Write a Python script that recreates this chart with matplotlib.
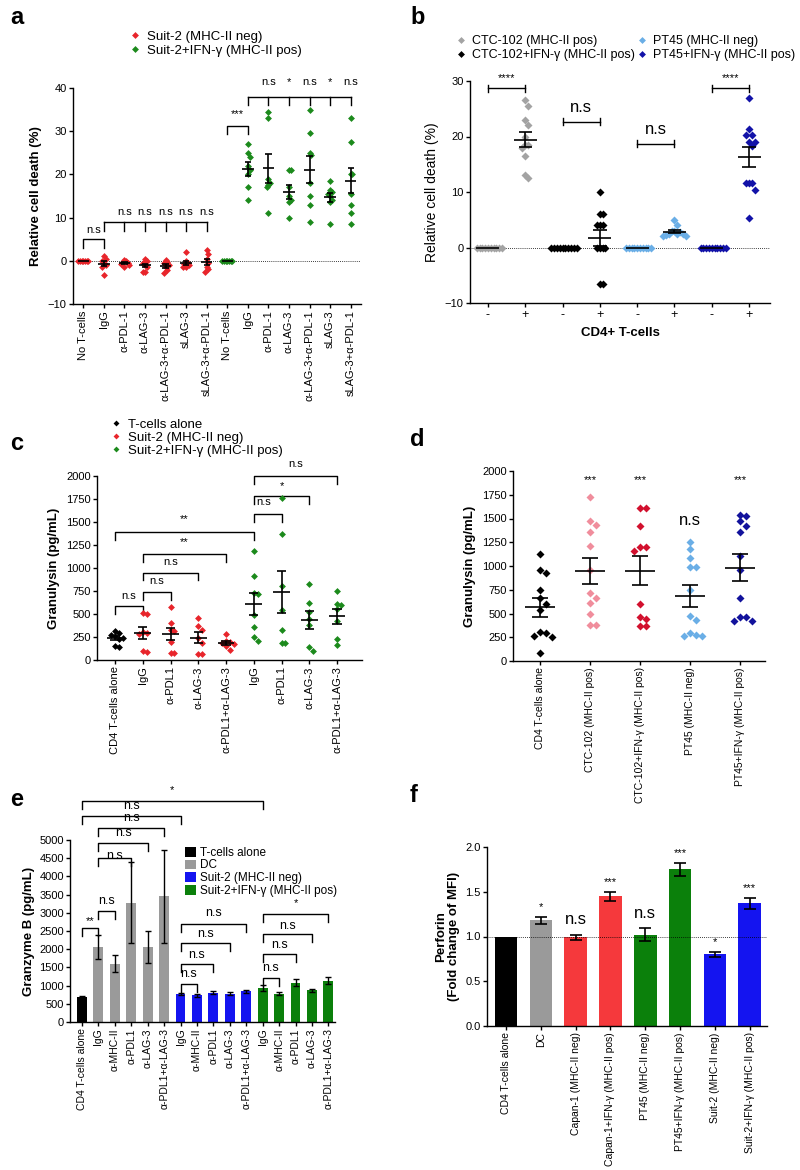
import numpy as np
import matplotlib
matplotlib.use("Agg")
import matplotlib.pyplot as plt
from matplotlib.lines import Line2D
from matplotlib.patches import Patch

plt.rcParams['font.family'] = ['Liberation Sans', 'DejaVu Sans']
plt.rcParams['axes.linewidth'] = 1.0
plt.rcParams['xtick.major.width'] = 1.0
plt.rcParams['ytick.major.width'] = 1.0
plt.rcParams['xtick.major.size'] = 3
plt.rcParams['ytick.major.size'] = 3

# ---------------- data ----------------
# panel a
a_labels = ["No T-cells", "IgG", "α-PDL-1", "α-LAG-3", "α-LAG-3+α-PDL-1", "sLAG-3", "sLAG-3+α-PDL-1"]
a_red = [
    [0, 0, 0, 0, 0, 0, 0],
    [1.0, 0.5, 0, -0.5, -1.0, -1.5, -3.2],
    [0.2, 0, -0.3, -0.5, -0.8, -1.0, -1.5],
    [0.5, 0, -0.5, -1.0, -1.5, -2.5, -2.5],
    [0.2, -0.2, -0.5, -1.0, -1.5, -2.2, -2.8],
    [2.0, 0, -0.5, -0.8, -1.0, -1.5, -1.5],
    [2.5, 1.5, 0.5, -0.5, -1.5, -2.0, -2.5],
]
a_green = [
    [0, 0, 0, 0, 0, 0, 0],
    [27, 25, 24, 22, 21, 20, 17, 14],
    [34.5, 33, 19, 18, 17.5, 17, 11],
    [21, 21, 17, 15, 14, 13.5, 10],
    [35, 29.5, 25, 24.5, 18, 15, 13, 9],
    [18.5, 16.5, 16, 15.5, 15, 14, 13.5, 8.5],
    [33, 27.5, 20, 20, 15.5, 13, 11, 8.5],
]
a_red_sig = ["n.s", "n.s", "n.s", "n.s", "n.s"]
a_green_sig = ["n.s", "*", "n.s", "*", "n.s"]

# panel b
b_names = ["CTC-102 (MHC-II pos)", "CTC-102+IFN-γ (MHC-II pos)", "PT45 (MHC-II neg)", "PT45+IFN-γ (MHC-II pos)"]
b_minus = [[0] * 10, [0] * 10, [0] * 10, [0] * 10]
b_plus = [
    [26.5, 25.5, 23, 22, 20, 18.5, 18.5, 18, 16.5, 13, 12.5],
    [10, 6, 6, 4, 4, 4, 0, 0, 0, 0, -6.5, -6.5],
    [5, 4, 3, 3, 2.8, 2.5, 2.5, 2.2, 2, 2, 2.5],
    [27, 21.4, 20.3, 20.3, 19, 19, 18.3, 11.6, 11.6, 11.6, 10.4, 5.4],
]
b_sig = ["****", "n.s", "n.s", "****"]

# panel c
c_labels = ["CD4 T-cells alone", "IgG", "α-PDL1", "α-LAG-3", "α-PDL1+α-LAG-3",
            "IgG", "α-PDL1", "α-LAG-3", "α-PDL1+α-LAG-3"]
c_values = [
    [320, 290, 270, 260, 240, 230, 150, 140],
    [510, 500, 300, 290, 280, 100, 90],
    [580, 400, 330, 310, 200, 80, 80],
    [460, 370, 330, 240, 190, 60, 60],
    [280, 210, 200, 180, 170, 150, 110],
    [1180, 910, 730, 720, 490, 360, 250, 210],
    [1760, 1370, 800, 540, 330, 180, 190],
    [830, 620, 520, 450, 380, 140, 100],
    [750, 610, 600, 550, 420, 230, 160],
]
c_groups = ["k", "r", "r", "r", "r", "g", "g", "g", "g"]

# panel d
d_labels = ["CD4 T-cells alone", "CTC-102 (MHC-II pos)", "CTC-102+IFN-γ (MHC-II pos)",
            "PT45 (MHC-II neg)", "PT45+IFN-γ (MHC-II pos)"]
d_values = [
    [1130, 960, 930, 750, 660, 600, 540, 310, 290, 260, 250, 80],
    [1730, 1470, 1430, 1360, 1210, 960, 720, 660, 610, 500, 380, 380],
    [1610, 1610, 1420, 1200, 1200, 1160, 600, 460, 440, 370, 370],
    [1250, 1180, 1080, 990, 990, 750, 470, 430, 270, 260, 260, 290],
    [1540, 1530, 1470, 1420, 1360, 1110, 960, 660, 460, 460, 420, 420],
]
d_sig = ["", "***", "***", "n.s", "***"]

# panel e
e_labels = ["CD4 T-cells alone", "IgG", "α-MHC-II", "α-PDL1", "α-LAG-3", "α-PDL1+α-LAG-3",
            "IgG", "α-MHC-II", "α-PDL1", "α-LAG-3", "α-PDL1+α-LAG-3",
            "IgG", "α-MHC-II", "α-PDL1", "α-LAG-3", "α-PDL1+α-LAG-3"]
e_means = [680, 2050, 1600, 3280, 2070, 3450, 770, 730, 810, 780, 840, 930, 780, 1080, 870, 1140]
e_errs = [30, 330, 230, 1120, 440, 1270, 30, 30, 50, 40, 40, 90, 50, 100, 50, 90]
e_groups = ["k"] + ["gray"] * 5 + ["b"] * 5 + ["g"] * 5
e_legend = ["T-cells alone", "DC", "Suit-2 (MHC-II neg)", "Suit-2+IFN-γ (MHC-II pos)"]

# panel f
f_labels = ["CD4 T-cells alone", "DC", "Capan-1 (MHC-II neg)", "Capan-1+IFN-γ (MHC-II pos)",
            "PT45 (MHC-II neg)", "PT45+IFN-γ (MHC-II pos)", "Suit-2 (MHC-II neg)", "Suit-2+IFN-γ (MHC-II pos)"]
f_means = [1.0, 1.18, 0.99, 1.45, 1.02, 1.75, 0.80, 1.37]
f_errs = [0, 0.04, 0.03, 0.05, 0.07, 0.07, 0.03, 0.06]
f_sig = ["", "*", "n.s", "***", "n.s", "***", "*", "***"]

# ---------------- colours ----------------
RED = "#e8252b"
GREEN = "#1c8a1c"
BAR_GRAY = "#9a9a9a"
BAR_BLUE = "#1414f0"
BAR_GREEN = "#0b800b"
BAR_RED = "#f5393c"
b_colors = ["#a3a3a3", "#000000", "#6aaee6", "#1212a8"]
d_colors = ["#000000", "#f08d9c", "#d2102e", "#6aaee6", "#12129c"]
c_cmap = {"k": "#000000", "r": RED, "g": GREEN}
e_cmap = {"k": "#000000", "gray": BAR_GRAY, "b": BAR_BLUE, "g": BAR_GREEN}
f_colors = ["#000000", BAR_GRAY, BAR_RED, BAR_RED, BAR_GREEN, BAR_GREEN, BAR_BLUE, BAR_BLUE]


def swarm(values, step, tol):
    vals = np.asarray(values, float)
    xs = np.zeros(len(vals))
    placed = []
    cands = [0.0]
    for n in range(1, 25):
        cands += [n * step, -n * step]
    for i in np.argsort(-vals):
        y = vals[i]
        for c in cands:
            if all(abs(c - px) >= step * 0.99 or abs(y - py) >= tol for px, py in placed):
                xs[i] = c
                placed.append((c, y))
                break
    return xs


def dots(ax, x, values, color, step, tol, mw, cw, ms):
    vals = np.asarray(values, float)
    offs = swarm(vals, step, tol)
    ax.plot(x + offs, vals, 'D', color=color, ms=ms, mec='none', zorder=3, clip_on=False)
    m = vals.mean()
    sem = vals.std(ddof=1) / np.sqrt(len(vals))
    ax.hlines(m, x - mw / 2, x + mw / 2, color='black', lw=1.2, zorder=4)
    if sem > 0:
        ax.vlines(x, m - sem, m + sem, color='black', lw=1.2, zorder=4)
        ax.hlines([m - sem, m + sem], x - cw / 2, x + cw / 2, color='black', lw=1.2, zorder=4)


def bracket(ax, x1, x2, y, tick, text, ty, fs=8, tx=None, centered=False):
    if centered:
        ax.plot([x1, x2], [y, y], color='black', lw=1, clip_on=False)
        ax.plot([x1, x1], [y - tick, y + tick], color='black', lw=1, clip_on=False)
        ax.plot([x2, x2], [y - tick, y + tick], color='black', lw=1, clip_on=False)
    else:
        ax.plot([x1, x1, x2, x2], [y - tick, y, y, y - tick], color='black', lw=1, clip_on=False)
    if tx is None:
        tx = (x1 + x2) / 2
    ax.text(tx, ty, text, ha='center', va='center', fontsize=fs, clip_on=False)


def multi_bracket(ax, xs, y, tick, labels, ty, fs=8):
    ax.plot([xs[0], xs[-1]], [y, y], color='black', lw=1, clip_on=False)
    for x in xs:
        ax.plot([x, x], [y, y - tick], color='black', lw=1, clip_on=False)
    for x, t in zip(xs[1:], labels):
        ax.text(x, ty, t, ha='center', va='center', fontsize=fs, clip_on=False)


def style(ax):
    for s in ['top', 'right']:
        ax.spines[s].set_visible(False)
    ax.tick_params(labelsize=8, direction='out', pad=1.5)


W, H = 800, 1170
fig = plt.figure(figsize=(8, 11.7), dpi=100)


def box(l, r, t, b):
    return [l / W, 1 - b / H, (r - l) / W, (b - t) / H]


# ---------------- panel a ----------------
ax = fig.add_axes(box(73, 361, 88, 304))
style(ax)
for i, v in enumerate(a_red):
    dots(ax, i, v, RED, 0.08, 1.3, 0.55, 0.3, 3.5)
for i, v in enumerate(a_green):
    dots(ax, i + 7, v, GREEN, 0.08, 1.3, 0.55, 0.3, 3.5)
ax.axhline(0, color='black', lw=0.6, ls=(0, (1, 1.5)), zorder=1)
ax.set_xlim(-0.5, 13.5)
ax.set_ylim(-10, 40)
ax.set_yticks([-10, 0, 10, 20, 30, 40])
ax.set_xticks(range(14))
ax.set_xticklabels(a_labels + a_labels, rotation=90, fontsize=8)
ax.set_ylabel("Relative cell death (%)", fontsize=9.5, fontweight='bold', labelpad=4)
bracket(ax, 0, 1, 5, 2, "n.s", 7.2)
multi_bracket(ax, list(range(1, 7)), 9, 2, a_red_sig, 11.3)
bracket(ax, 7, 8, 31.3, 2, "***", 34.0)
multi_bracket(ax, list(range(8, 14)), 38, 2, a_green_sig, 41.3)
h = [Line2D([], [], marker='D', ls='', color=RED, ms=3.5, mec='none'),
     Line2D([], [], marker='D', ls='', color=GREEN, ms=3.5, mec='none')]
fig.legend(h, ["Suit-2 (MHC-II neg)", "Suit-2+IFN-γ (MHC-II pos)"], loc='upper left',
           bbox_to_anchor=(122 / W, 1 - 24 / H), frameon=False, fontsize=9.5,
           handlelength=1, handletextpad=0.4, labelspacing=0.15, borderpad=0)
fig.text(10 / W, 1 - 18 / H, "a", fontsize=17, fontweight='bold', va='center')

# ---------------- panel b ----------------
ax = fig.add_axes(box(470, 770, 81, 303))
style(ax)
for k in range(4):
    dots(ax, 2 * k, b_minus[k], b_colors[k], 0.075, 1.4, 0.62, 0.36, 3.8)
    dots(ax, 2 * k + 1, b_plus[k], b_colors[k], 0.075, 1.4, 0.62, 0.36, 3.8)
ax.axhline(0, color='black', lw=0.6, ls=(0, (1, 1.5)), zorder=1)
ax.set_xlim(-0.48, 7.56)
ax.set_ylim(-10, 30)
ax.set_yticks([-10, 0, 10, 20, 30])
ax.set_xticks(range(8))
ax.set_xticklabels(["-", "+"] * 4, fontsize=9)
ax.set_xlabel("CD4+ T-cells", fontsize=9.5, fontweight='bold', labelpad=4)
ax.set_ylabel("Relative cell death (%)", fontsize=10, labelpad=4)
bracket(ax, 0, 1, 28.7, 0.6, b_sig[0], 30.6, fs=8, centered=True)
bracket(ax, 2, 3, 22.7, 0.6, b_sig[1], 25.2, fs=12, centered=True)
bracket(ax, 4, 5, 18.7, 0.6, b_sig[2], 21.2, fs=12, centered=True)
bracket(ax, 6, 7, 28.7, 0.6, b_sig[3], 30.6, fs=8, centered=True)
h = [Line2D([], [], marker='D', ls='', color=c, ms=3.5, mec='none') for c in b_colors]
fig.legend([h[0], h[1], h[2], h[3]], [b_names[0], b_names[1], b_names[2], b_names[3]],
           loc='upper left', ncol=2, bbox_to_anchor=(448 / W, 1 - 29 / H), frameon=False,
           fontsize=9, handlelength=1, handletextpad=0.4, labelspacing=0.15,
           columnspacing=0.1, borderpad=0)
fig.text(410 / W, 1 - 17 / H, "b", fontsize=17, fontweight='bold', va='center')

# ---------------- panel c ----------------
ax = fig.add_axes(box(97, 362, 476, 660))
style(ax)
for i, v in enumerate(c_values):
    dots(ax, i, v, c_cmap[c_groups[i]], 0.14, 60, 0.6, 0.33, 3.5)
ax.set_xlim(-0.65, 8.9)
ax.set_ylim(0, 2000)
ax.set_yticks(range(0, 2001, 250))
ax.set_xticks(range(9))
ax.set_xticklabels(c_labels, rotation=90, fontsize=8)
ax.set_ylabel("Granulysin (pg/mL)", fontsize=9.5, fontweight='bold', labelpad=4)
tk = 85
bracket(ax, 0, 1, 590, tk, "n.s", 700)
bracket(ax, 1, 2, 740, tk, "n.s", 860)
bracket(ax, 1, 3, 950, tk, "n.s", 1070)
bracket(ax, 1, 4, 1150, tk, "**", 1280)
bracket(ax, 0, 5, 1390, tk, "**", 1530)
bracket(ax, 5, 6, 1590, tk, "n.s", 1720, tx=5.35)
bracket(ax, 5, 7, 1780, tk, "*", 1890)
bracket(ax, 5, 8, 2000, tk, "n.s", 2130)
h = [Line2D([], [], marker='D', ls='', color=c, ms=3, mec='none') for c in ["#000000", RED, GREEN]]
fig.legend(h, ["T-cells alone", "Suit-2 (MHC-II neg)", "Suit-2+IFN-γ (MHC-II pos)"],
           loc='upper left', bbox_to_anchor=(103 / W, 1 - 412 / H), frameon=False, fontsize=9.5,
           handlelength=1, handletextpad=0.4, labelspacing=0.05, borderpad=0)
fig.text(10 / W, 1 - 443 / H, "c", fontsize=17, fontweight='bold', va='center')

# ---------------- panel d ----------------
ax = fig.add_axes(box(513, 765, 471, 661))
style(ax)
for i, v in enumerate(d_values):
    dots(ax, i, v, d_colors[i], 0.12, 70, 0.6, 0.33, 3.8)
    if d_sig[i] == "n.s":
        ax.text(i, 1480, d_sig[i], ha='center', va='center', fontsize=12)
    elif d_sig[i]:
        ax.text(i, 1900, d_sig[i], ha='center', va='center', fontsize=8)
ax.set_xlim(-0.54, 4.5)
ax.set_ylim(0, 2000)
ax.set_yticks(range(0, 2001, 250))
ax.set_xticks(range(5))
ax.set_xticklabels(d_labels, rotation=90, fontsize=7.5)
ax.set_ylabel("Granulysin (pg/mL)", fontsize=9.5, fontweight='bold', labelpad=4)
fig.text(410 / W, 1 - 440 / H, "d", fontsize=17, fontweight='bold', va='center')

# ---------------- panel e ----------------
ax = fig.add_axes(box(70, 335, 840, 1022))
style(ax)
xe = np.arange(len(e_means))
ax.bar(xe, e_means, width=0.6, color=[e_cmap[g] for g in e_groups], zorder=2)
ax.errorbar(xe, e_means, yerr=e_errs, fmt='none', ecolor='black', elinewidth=1, capsize=2.5,
            capthick=1, zorder=3)
ax.set_xlim(-0.73, 15.4)
ax.set_ylim(0, 5000)
ax.set_yticks(range(0, 5001, 500))
ax.set_xticks(xe)
ax.set_xticklabels(e_labels, rotation=90, fontsize=7.5)
ax.set_ylabel("Granzyme B (pg/mL)", fontsize=9.5, fontweight='bold', labelpad=3)
tk = 220
bracket(ax, 0, 1, 2570, tk, "**", 2780)
bracket(ax, 1, 2, 3060, tk, "n.s", 3330, fs=9)
bracket(ax, 1, 3, 4510, tk, "n.s", 4560, fs=9)
bracket(ax, 1, 4, 4920, tk, "n.s", 5190, fs=9)
bracket(ax, 1, 5, 5330, tk, "n.s", 5600, fs=9)
bracket(ax, 0, 6, 5660, tk, "n.s", 5930, fs=9)
bracket(ax, 0, 11, 6070, tk, "*", 6380)
bracket(ax, 6, 7, 1040, tk, "n.s", 1310, fs=9)
bracket(ax, 6, 8, 1590, tk, "n.s", 1830, fs=9)
bracket(ax, 6, 9, 2160, tk, "n.s", 2420, fs=9)
bracket(ax, 6, 10, 2700, tk, "n.s", 3000, fs=9)
bracket(ax, 11, 12, 1200, tk, "n.s", 1470, fs=9)
bracket(ax, 11, 13, 1860, tk, "n.s", 2110, fs=9)
bracket(ax, 11, 14, 2430, tk, "n.s", 2640, fs=9)
bracket(ax, 11, 15, 2980, tk, "*", 3280)
h = [Patch(facecolor=c) for c in ["#000000", BAR_GRAY, BAR_BLUE, BAR_GREEN]]
fig.legend(h, e_legend, loc='upper left', bbox_to_anchor=(179 / W, 1 - 841 / H), frameon=False,
           fontsize=8.5, handlelength=0.9, handleheight=0.9, handletextpad=0.4,
           labelspacing=0.05, borderpad=0)
fig.text(10 / W, 1 - 800 / H, "e", fontsize=17, fontweight='bold', va='center')

# ---------------- panel f ----------------
ax = fig.add_axes(box(487, 767, 847, 1026))
style(ax)
xf = np.arange(len(f_means))
ax.bar(xf, f_means, width=0.65, color=f_colors, zorder=2)
ax.errorbar(xf[1:], f_means[1:], yerr=f_errs[1:], fmt='none', ecolor='black', elinewidth=1.2,
            capsize=4, capthick=1.2, zorder=3)
ax.axhline(1.0, color='black', lw=0.6, ls=(0, (1, 1.5)), zorder=4)
for i, s in enumerate(f_sig):
    if s == "n.s":
        ax.text(i, f_means[i] + f_errs[i] + 0.17, s, ha='center', va='center', fontsize=12)
    elif s:
        ax.text(i, f_means[i] + f_errs[i] + 0.11, s, ha='center', va='center', fontsize=8)
ax.set_xlim(-0.55, 7.5)
ax.set_ylim(0, 2.0)
ax.set_yticks([0, 0.5, 1.0, 1.5, 2.0])
ax.set_yticklabels(["0.0", "0.5", "1.0", "1.5", "2.0"])
ax.set_xticks(xf)
ax.set_xticklabels(f_labels, rotation=90, fontsize=7.5)
ax.set_ylabel("Perforin\n(Fold change of MFI)", fontsize=9.5, fontweight='bold', labelpad=4,
              linespacing=1.1)
fig.text(410 / W, 1 - 795 / H, "f", fontsize=17, fontweight='bold', va='center')

fig.savefig("out.png", dpi=100)
